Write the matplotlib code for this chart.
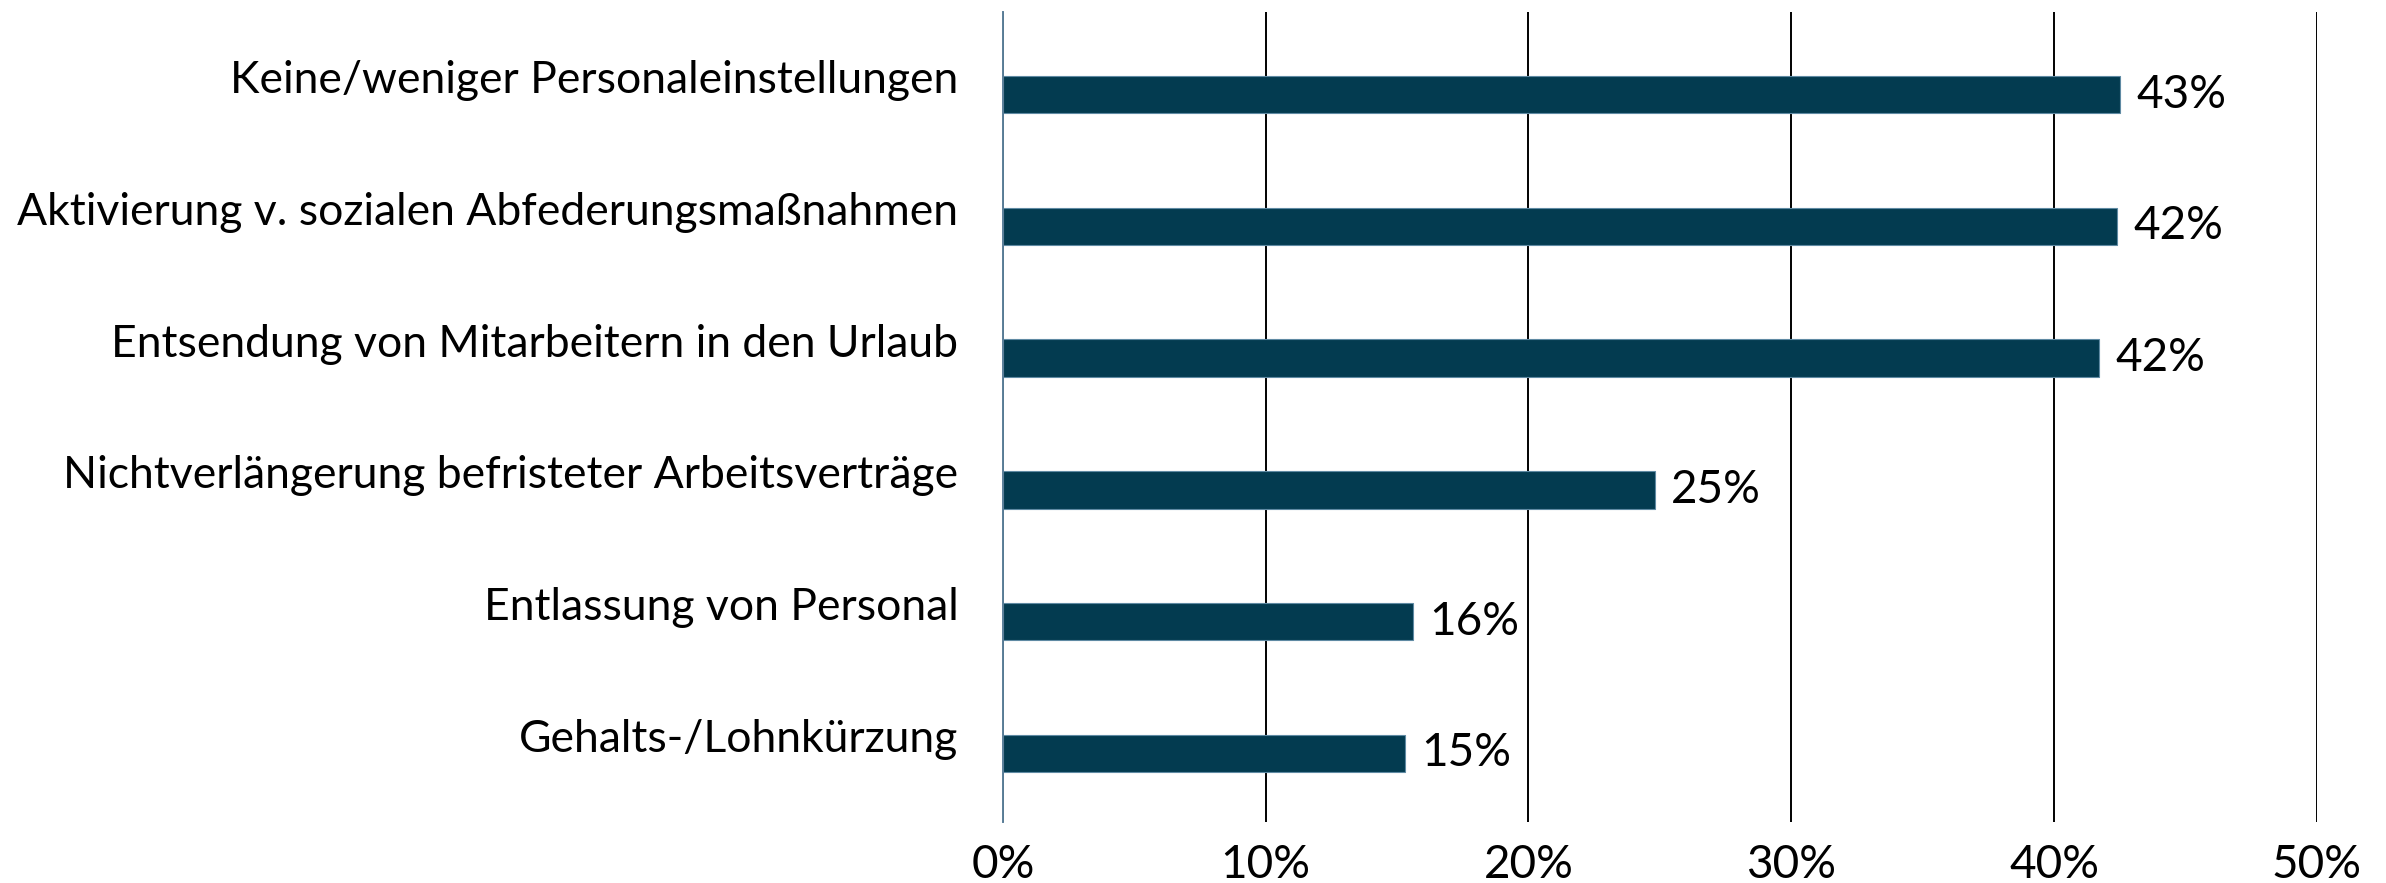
import matplotlib
matplotlib.use("Agg")
import matplotlib.pyplot as plt
from matplotlib.transforms import ScaledTranslation

plt.rcParams["font.family"] = ["Lato", "DejaVu Sans"]

CATEGORIES = [
    "Keine/weniger Personaleinstellungen",
    "Aktivierung v. sozialen Abfederungsmaßnahmen",
    "Entsendung von Mitarbeitern in den Urlaub",
    "Nichtverlängerung befristeter Arbeitsverträge",
    "Entlassung von Personal",
    "Gehalts-/Lohnkürzung",
]
VALUES = [42.5, 42.4, 41.7, 24.8, 15.6, 15.3]
VALUE_LABELS = ["43%", "42%", "42%", "25%", "16%", "15%"]
X_TICKS = [0, 10, 20, 30, 40, 50]

BAR_COLOR = "#033b50"
FS = 33
FS_CAT = 32


def main():
    fig = plt.figure(figsize=(23.86, 8.83), dpi=100)
    ax = fig.add_axes([0.4203, 0.0691, 0.5507, 0.9173])

    ys = list(range(len(CATEGORIES)))
    ax.barh(ys, VALUES, height=0.283, color=BAR_COLOR,
            edgecolor="#5f8aa3", linewidth=0.8, zorder=3)

    for y, v, lab in zip(ys, VALUES, VALUE_LABELS):
        ax.annotate(lab, (v, y), xytext=(12, 0), textcoords="offset points",
                    va="center", ha="left", fontsize=FS, color="black")

    ax.set_xlim(0, 50)
    ax.set_ylim(5.52, -0.626)
    ax.set_xticks(X_TICKS)
    ax.set_xticklabels([f"{t}%" for t in X_TICKS], fontsize=FS)
    ax.set_yticks(ys)
    ax.set_yticklabels(CATEGORIES, fontsize=FS_CAT)
    ax.tick_params(axis="both", length=0)
    ax.tick_params(axis="x", pad=16)
    ax.tick_params(axis="y", pad=32)

    # category labels sit a bit above the bars
    shift = ScaledTranslation(0, 13 / 72, fig.dpi_scale_trans)
    for lab in ax.get_yticklabels():
        lab.set_transform(lab.get_transform() + shift)

    ax.grid(axis="x", color="black", linewidth=1.4, zorder=0)
    ax.grid(axis="y", visible=False)
    for side in ["top", "right", "bottom"]:
        ax.spines[side].set_visible(False)
    ax.spines["left"].set_color("#5b7f99")
    ax.spines["left"].set_linewidth(1.4)
    ax.spines["left"].set_zorder(4)

    fig.savefig("out.png", dpi=100)
    plt.close(fig)


if __name__ == "__main__":
    main()
